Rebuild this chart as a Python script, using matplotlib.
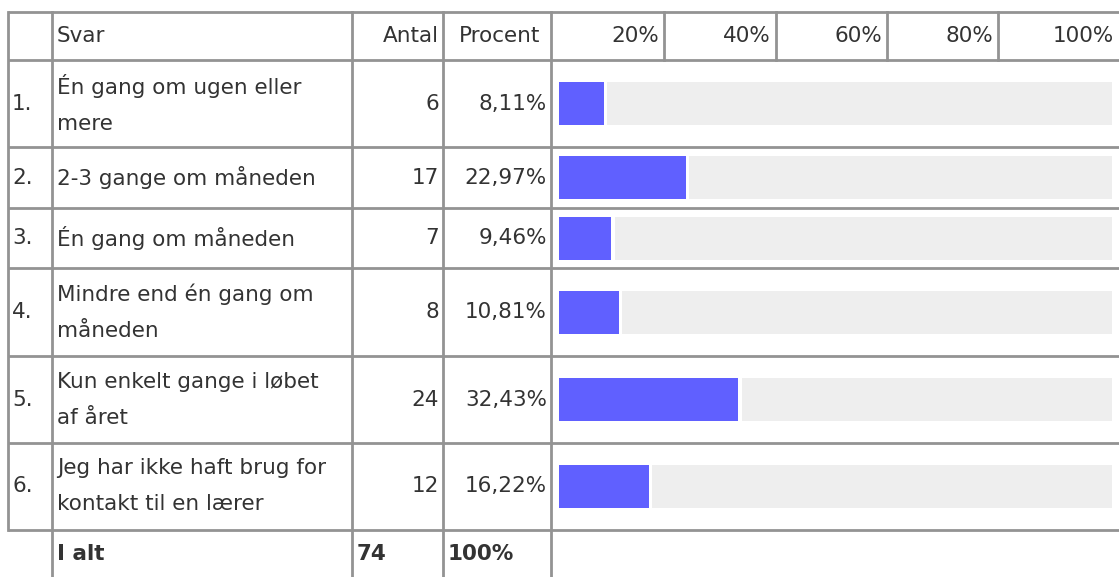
import matplotlib.pyplot as plt

# data
nums = ["1.", "2.", "3.", "4.", "5.", "6."]
svar = ["Én gang om ugen eller\nmere",
        "2-3 gange om måneden",
        "Én gang om måneden",
        "Mindre end én gang om\nmåneden",
        "Kun enkelt gange i løbet\naf året",
        "Jeg har ikke haft brug for\nkontakt til en lærer"]
antal = [6, 17, 7, 8, 24, 12]
procent = [8.11, 22.97, 9.46, 10.81, 32.43, 16.22]
pct_ticks = ["20%", "40%", "60%", "80%", "100%"]
total_antal = 74
total_pct = "100%"

# layout (pixels)
W, H = 1119, 577
row_edges = [12, 60, 147, 208, 268, 356, 443, 530]
col_x = [8, 52, 352, 443, 551]
sub_x = [551, 664, 776, 887, 998, 1119]
line_c = "#939393"
txt_c = "#333333"
fs = 15.5

fig = plt.figure(figsize=(W / 100, H / 100), dpi=100)
ax = fig.add_axes([0, 0, 1, 1])
ax.set_xlim(0, W)
ax.set_ylim(H, 0)
ax.axis("off")

# grid lines
for y in row_edges:
    ax.plot([col_x[0], W], [y, y], color=line_c, lw=2, solid_capstyle="butt")
ax.plot([col_x[0], col_x[0]], [row_edges[0], row_edges[-1]], color=line_c, lw=2)
for x in col_x[1:]:
    ax.plot([x, x], [row_edges[0], H], color=line_c, lw=2)
for x in sub_x[1:-1]:
    ax.plot([x, x], [row_edges[0], row_edges[1]], color=line_c, lw=2)

# header
hy = (row_edges[0] + row_edges[1]) / 2
ax.text(57, hy, "Svar", fontsize=fs, color=txt_c, va="center", ha="left")
ax.text(col_x[3] - 4, hy, "Antal", fontsize=fs, color=txt_c, va="center", ha="right")
ax.text(col_x[4] - 11, hy, "Procent", fontsize=fs, color=txt_c, va="center", ha="right")
for lab, x in zip(pct_ticks, sub_x[1:]):
    ax.text(x - 5, hy, lab, fontsize=fs, color=txt_c, va="center", ha="right")

centers = [(row_edges[i + 1] + row_edges[i + 2]) / 2 for i in range(len(svar))]
for n, s, a, p, cy in zip(nums, svar, antal, procent, centers):
    ax.text(12, cy, n, fontsize=fs, color=txt_c, va="center", ha="left")
    ax.text(57, cy, s, fontsize=fs, color=txt_c, va="center", ha="left", linespacing=2.0)
    ax.text(col_x[3] - 4, cy, str(a), fontsize=fs, color=txt_c, va="center", ha="right")
    ax.text(col_x[4] - 4, cy, f"{p:.2f}%".replace(".", ","), fontsize=fs,
            color=txt_c, va="center", ha="right")

ty = (row_edges[-1] + H) / 2
ax.text(57, ty, "I alt", fontsize=fs, color=txt_c, va="center", ha="left", weight="bold")
ax.text(col_x[2] + 5, ty, str(total_antal), fontsize=fs, color=txt_c, va="center", ha="left", weight="bold")
ax.text(col_x[3] + 5, ty, total_pct, fontsize=fs, color=txt_c, va="center", ha="left", weight="bold")

# bars
bx = fig.add_axes([559 / W, 0, (1112 - 559) / W, 1])
bx.set_xlim(0, 100)
bx.set_ylim(H, 0)
bx.axis("off")
gap = 0.6
bx.barh(centers, procent, height=43, color="#6060ff")
bx.barh(centers, [100 - p - gap for p in procent], left=[p + gap for p in procent],
        height=43, color="#eeeeee")

fig.savefig("out.png", dpi=100)
